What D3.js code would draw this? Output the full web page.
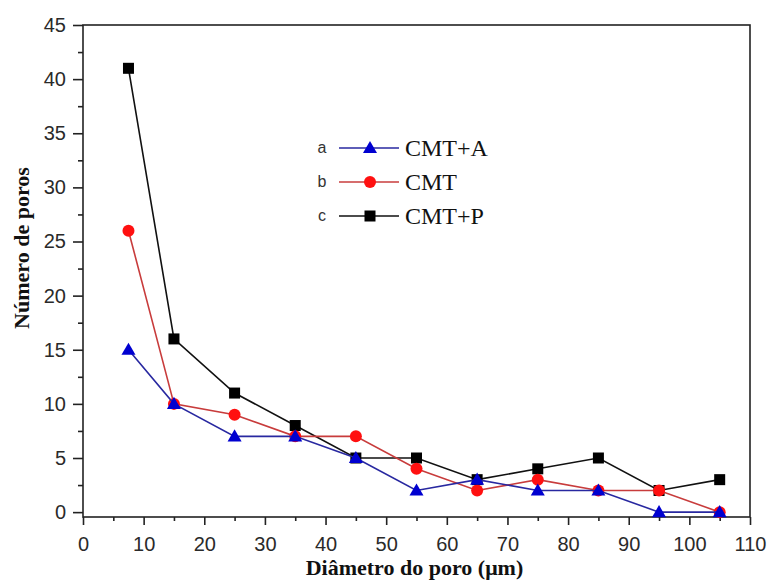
<!DOCTYPE html>
<html>
<head>
<meta charset="utf-8">
<script src="https://cdn.jsdelivr.net/npm/d3@7"></script>
<style>
  body { margin: 0; background: white; }
</style>
</head>
<body>
<script>
// Data
const diameters = [7.5, 15, 25, 35, 45, 55, 65, 75, 85, 95, 105];
const cmtA = [15, 10, 7, 7, 5, 2, 3, 2, 2, 0, 0];
const cmt = [26, 10, 9, 7, 7, 4, 2, 3, 2, 2, 0];
const cmtP = [41, 16, 11, 8, 5, 5, 3, 4, 5, 2, 3];
const xTicks = d3.range(0, 111, 10);
const yTicks = d3.range(0, 46, 5);

const series = [
    {key: "c", name: "CMT+P", values: cmtP, line: "#111", fill: "#000", shape: "square"},
    {key: "b", name: "CMT", values: cmt, line: "#c83c3c", fill: "#ff1010", shape: "circle"},
    {key: "a", name: "CMT+A", values: cmtA, line: "#2828a0", fill: "#0000d0", shape: "triangle"}
];

const outerWidth = 769, outerHeight = 581;
const margin = {left: 83, top: 25, right: 19, bottom: 64};
const width = outerWidth - margin.left - margin.right;
const height = outerHeight - margin.top - margin.bottom;

const svg = d3.select("body").append("svg")
    .attr("width", outerWidth)
    .attr("height", outerHeight)
    .style("background", "white");

const canvas = svg.append("g")
    .attr("transform", `translate(${margin.left}, ${margin.top})`);

// Scales
const xScale = d3.scaleLinear().domain([0, 110]).range([0, width]);
const yScale = d3.scaleLinear().domain([-0.45, 45]).range([height, 0]);

// Minor ticks
const xAxisMinor = d3.axisBottom(xScale).tickValues(d3.range(5, 110, 10)).tickSize(4).tickFormat("");
const yAxisMinor = d3.axisLeft(yScale).tickValues(d3.range(2.5, 45, 5)).tickSize(5).tickFormat("");
canvas.append("g").attr("transform", `translate(0, ${height})`).call(xAxisMinor);
canvas.append("g").call(yAxisMinor);

// Major axes
const xAxis = d3.axisBottom(xScale).tickValues(xTicks).tickSize(8).tickPadding(12);
const yAxis = d3.axisLeft(yScale).tickValues(yTicks).tickSize(10).tickPadding(7);

const xAxisGroup = canvas.append("g").attr("transform", `translate(0, ${height})`).call(xAxis);
const yAxisGroup = canvas.append("g").call(yAxis);

canvas.selectAll(".domain").remove();
canvas.selectAll(".tick line").attr("stroke", "#222").attr("stroke-width", 1.6);
[xAxisGroup, yAxisGroup].forEach(g => g.selectAll("text")
    .style("font-family", "Liberation Sans, Arial, sans-serif")
    .style("font-size", "20px")
    .style("fill", "#2a2a2a"));

// Frame
canvas.append("rect")
    .attr("width", width)
    .attr("height", height)
    .attr("fill", "none")
    .attr("stroke", "#222")
    .attr("stroke-width", 1.6);

// Axis labels
svg.append("text")
    .text("Diâmetro do poro (μm)")
    .attr("x", margin.left + xScale(55) - 2)
    .attr("y", 575)
    .style("text-anchor", "middle")
    .style("font-family", "Liberation Serif, Times New Roman, serif")
    .style("font-weight", "bold")
    .style("font-size", "22px")
    .style("fill", "#111");

svg.append("text")
    .text("Número de poros")
    .attr("transform", "translate(29, 248) rotate(-90)")
    .style("text-anchor", "middle")
    .style("font-family", "Liberation Serif, Times New Roman, serif")
    .style("font-weight", "bold")
    .style("font-size", "22px")
    .style("fill", "#111");

// Markers
const triangle = d3.symbol().type(d3.symbolTriangle).size(85);
const drawMarker = (g, s, x, y) => {
    if (s.shape === "square") {
        g.append("rect").attr("x", x - 5.5).attr("y", y - 5.5)
            .attr("width", 11).attr("height", 11).attr("fill", s.fill);
    } else if (s.shape === "circle") {
        g.append("circle").attr("cx", x).attr("cy", y).attr("r", 6).attr("fill", s.fill);
    } else {
        g.append("path").attr("d", triangle)
            .attr("transform", `translate(${x}, ${y + 1})`).attr("fill", s.fill);
    }
};

// Lines and points
const line = d3.line()
    .x((d, i) => xScale(diameters[i]))
    .y(d => yScale(d));

series.forEach(s => {
    canvas.append("path")
        .datum(s.values)
        .attr("fill", "none")
        .attr("stroke", s.line)
        .attr("stroke-width", 1.6)
        .attr("d", line);
    const g = canvas.append("g");
    s.values.forEach((v, i) => drawMarker(g, s, xScale(diameters[i]), yScale(v)));
});

// Legend
const legendRows = [series[2], series[1], series[0]];
const legend = svg.append("g");
legendRows.forEach((s, i) => {
    const y = 148 + i * 34;
    legend.append("text").text(s.key)
        .attr("x", 322).attr("y", y + 5)
        .style("text-anchor", "middle")
        .style("font-family", "Liberation Sans, Arial, sans-serif")
        .style("font-size", "16px")
        .style("fill", "#333");
    legend.append("line")
        .attr("x1", 339).attr("x2", 399).attr("y1", y).attr("y2", y)
        .attr("stroke", s.line).attr("stroke-width", 1.6);
    drawMarker(legend, s, 370, y);
    legend.append("text").text(s.name)
        .attr("x", 405).attr("y", y + 8)
        .style("font-family", "Liberation Serif, Times New Roman, serif")
        .style("font-size", "24px")
        .style("fill", "#111");
});
</script>
</body>
</html>
